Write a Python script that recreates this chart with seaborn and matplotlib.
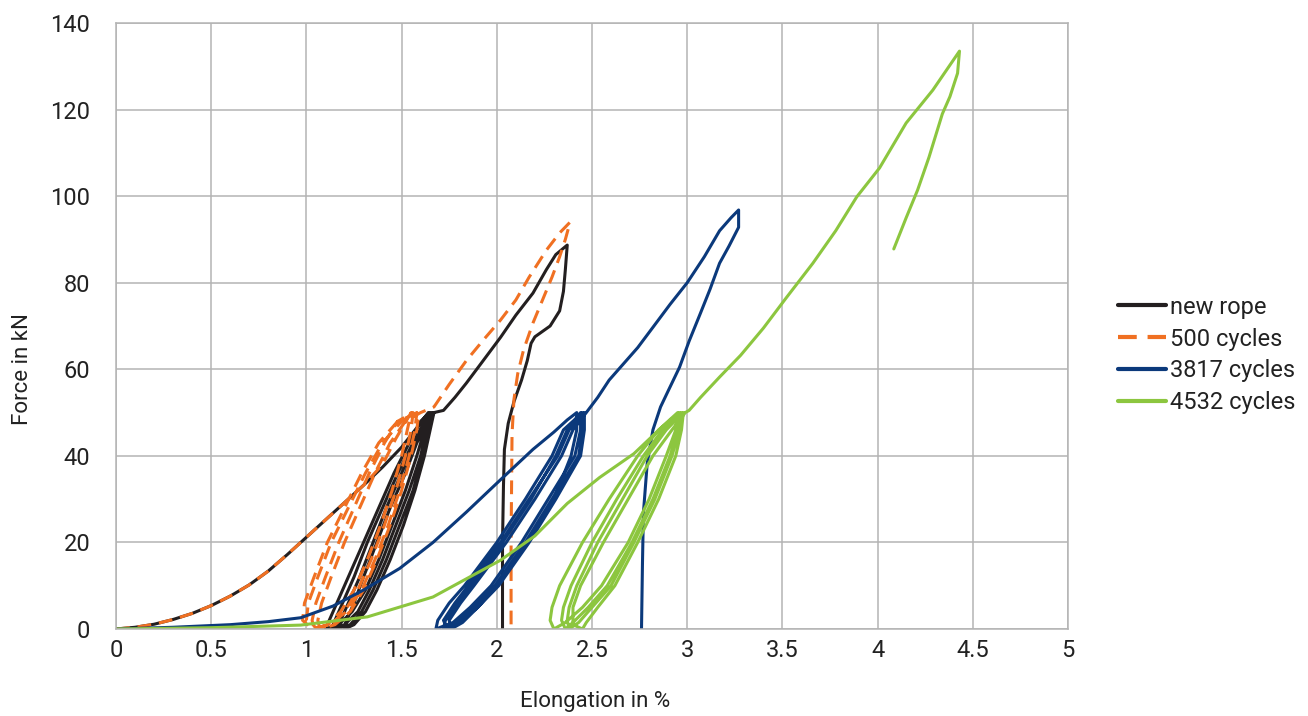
import matplotlib
matplotlib.use("Agg")
import matplotlib.pyplot as plt
import seaborn as sns
import pandas as pd

# ---------------- data ----------------
series_names = ["new rope", "500 cycles", "3817 cycles", "4532 cycles"]

new_rope_x = [0, 0.1, 0.2, 0.3, 0.4, 0.5, 0.6, 0.7, 0.8, 0.9, 1.0, 1.1, 1.2, 1.3, 1.4, 1.5, 1.58, 1.64,
              1.62, 1.58, 1.52, 1.45, 1.38, 1.31, 1.24, 1.17, 1.10,
              1.12, 1.16, 1.22, 1.30, 1.38, 1.46, 1.54, 1.60, 1.65,
              1.63, 1.60, 1.54, 1.47, 1.40, 1.33, 1.27, 1.20, 1.13,
              1.15, 1.19, 1.25, 1.32, 1.40, 1.48, 1.56, 1.62, 1.66,
              1.64, 1.61, 1.56, 1.49, 1.42, 1.35, 1.29, 1.23, 1.16,
              1.18, 1.22, 1.28, 1.35, 1.42, 1.50, 1.57, 1.63, 1.67,
              1.65, 1.62, 1.57, 1.51, 1.44, 1.37, 1.31, 1.25, 1.20,
              1.21, 1.25, 1.30, 1.37, 1.44, 1.52, 1.58, 1.64, 1.67,
              1.72, 1.78, 1.84, 1.92, 2.02, 2.10, 2.19, 2.26, 2.31, 2.37,
              2.36, 2.35, 2.33, 2.28, 2.20, 2.18, 2.16, 2.13, 2.09, 2.06, 2.04, 2.035, 2.03, 2.03, 2.03]
new_rope_y = [0, 0.4, 1.1, 2.2, 3.6, 5.4, 7.6, 10.2, 13.4, 17.2, 21.2, 25.2, 29.2, 33.2, 37.4, 42.0, 46.5, 50,
              46, 40, 32, 24, 16, 9, 4, 1, 0,
              2, 6, 12, 20, 28, 36, 43, 48, 50,
              46, 40, 32, 24, 16, 9, 4, 1, 0,
              2, 6, 12, 20, 28, 36, 43, 48, 50,
              46, 40, 32, 24, 16, 9, 4, 1, 0,
              2, 6, 12, 20, 28, 36, 43, 48, 50,
              46, 40, 32, 24, 16, 9, 4, 1, 0,
              2, 6, 12, 20, 28, 36, 43, 48, 50,
              50.5, 53.5, 56.8, 61.5, 67.4, 72.5, 77.6, 83.0, 86.5, 88.7,
              83, 78, 73.5, 70, 67.5, 66, 62, 57.5, 52.5, 47.5, 41.5, 33, 20, 8, 0]

c500_x = [0, 0.1, 0.2, 0.3, 0.4, 0.5, 0.6, 0.7, 0.8, 0.9, 1.0, 1.1, 1.2, 1.3, 1.4, 1.47, 1.55,
          1.53, 1.50, 1.45, 1.39, 1.32, 1.25, 1.18, 1.11, 1.04,
          1.03, 1.05, 1.10, 1.17, 1.25, 1.33, 1.41, 1.48, 1.56,
          1.55, 1.52, 1.47, 1.41, 1.34, 1.27, 1.20, 1.13, 1.06,
          1.00, 1.01, 1.06, 1.13, 1.22, 1.31, 1.40, 1.50, 1.58,
          1.57, 1.54, 1.49, 1.43, 1.36, 1.29, 1.21, 1.12, 1.03,
          0.98, 0.99, 1.04, 1.11, 1.20, 1.29, 1.38, 1.48, 1.59,
          1.58, 1.55, 1.50, 1.44, 1.37, 1.30, 1.23, 1.15, 1.07,
          1.06, 1.08, 1.13, 1.20, 1.28, 1.36, 1.44, 1.52, 1.60,
          1.67, 1.75, 1.84, 1.93, 2.02, 2.10, 2.17, 2.26, 2.33, 2.385,
          2.36, 2.33, 2.29, 2.24, 2.19, 2.14, 2.11, 2.09, 2.08, 2.078, 2.075, 2.075]
c500_y = [0, 0.4, 1.1, 2.2, 3.6, 5.4, 7.6, 10.2, 13.4, 17.2, 21.2, 25.2, 29.2, 33.2, 38.0, 44.0, 50,
          46, 40, 32, 24, 16, 9, 4, 1, 0,
          2, 6, 12, 20, 28, 36, 43, 48, 50,
          46, 40, 32, 24, 16, 9, 4, 1, 0,
          2, 6, 12, 20, 28, 36, 43, 48, 50,
          46, 40, 32, 24, 16, 9, 4, 1, 0,
          2, 6, 12, 20, 28, 36, 43, 48, 50,
          46, 40, 32, 24, 16, 9, 4, 1, 0,
          2, 6, 12, 20, 28, 36, 43, 48, 50,
          51.3, 56.5, 62.0, 66.8, 71.4, 76.0, 81.3, 87.5, 91.5, 94.0,
          90, 86, 81.3, 76, 70.7, 64.4, 59, 53, 45, 35, 20, 0]

c3817_x = [0, 0.3, 0.6, 0.8, 0.97, 1.14, 1.30, 1.49, 1.665, 1.84, 2.02, 2.19, 2.30, 2.37, 2.42,
           2.42, 2.39, 2.30, 2.16, 2.00, 1.90, 1.80, 1.72,
           1.73, 1.80, 1.87, 2.03, 2.18, 2.31, 2.37, 2.44,
           2.44, 2.41, 2.27, 2.13, 1.97, 1.86, 1.77, 1.68,
           1.69, 1.75, 1.83, 2.00, 2.15, 2.29, 2.35, 2.45,
           2.45, 2.43, 2.29, 2.15, 1.99, 1.88, 1.79, 1.74,
           1.72, 1.78, 1.85, 2.02, 2.17, 2.32, 2.38, 2.46,
           2.46, 2.44, 2.31, 2.17, 2.01, 1.90, 1.82, 1.76,
           1.75, 1.81, 1.88, 2.05, 2.20, 2.34, 2.40, 2.47,
           2.53, 2.59, 2.65, 2.74, 2.82, 2.91, 3.00, 3.09, 3.17, 3.23, 3.27,
           3.27, 3.22, 3.17, 3.12, 3.07, 3.01, 2.96, 2.90, 2.86, 2.82, 2.79, 2.77, 2.765, 2.76]
c3817_y = [0, 0.4, 1.0, 1.7, 2.6, 5.3, 9.0, 14.0, 20.0, 27.0, 34.5, 41.5, 45.5, 48.3, 50,
           46, 40, 30, 20, 10, 5, 1.5, 0,
           2, 6, 10, 20, 30, 40, 46, 50,
           46, 40, 30, 20, 10, 5, 1.5, 0,
           2, 6, 10, 20, 30, 40, 46, 50,
           46, 40, 30, 20, 10, 5, 1.5, 0,
           2, 6, 10, 20, 30, 40, 46, 50,
           46, 40, 30, 20, 10, 5, 1.5, 0,
           2, 6, 10, 20, 30, 40, 46, 50,
           53.5, 57.5, 60.5, 65.0, 69.7, 75.0, 80.0, 86.0, 92.0, 95.0, 96.8,
           92.8, 88.5, 84.5, 78.5, 73, 66.5, 60.5, 55, 51.3, 46, 38.3, 26.8, 15, 0]

c4532_x = [0, 0.5, 0.97, 1.32, 1.665, 2.02, 2.2, 2.37, 2.54, 2.72, 2.89, 2.95,
           2.94, 2.89, 2.80, 2.69, 2.55, 2.45, 2.36, 2.30,
           2.28, 2.29, 2.33, 2.45, 2.59, 2.74, 2.85, 2.96,
           2.95, 2.91, 2.82, 2.71, 2.58, 2.48, 2.40, 2.36,
           2.34, 2.35, 2.39, 2.50, 2.63, 2.77, 2.87, 2.97,
           2.96, 2.92, 2.83, 2.72, 2.60, 2.50, 2.43, 2.38,
           2.37, 2.38, 2.42, 2.53, 2.66, 2.79, 2.89, 2.98,
           2.97, 2.94, 2.85, 2.74, 2.62, 2.53, 2.47, 2.45,
           2.40, 2.40, 2.44, 2.56, 2.69, 2.82, 2.92, 2.99,
           3.01, 3.07, 3.17, 3.28, 3.40, 3.52, 3.66, 3.78, 3.89, 4.01, 4.15, 4.29, 4.36, 4.43,
           4.42, 4.38, 4.34, 4.27, 4.21, 4.15, 4.085]
c4532_y = [0, 0.3, 0.9, 2.8, 7.4, 15.9, 21.5, 29.0, 35.0, 40.5, 47.6, 50,
           46, 40, 30, 20, 10, 5, 1.5, 0,
           2, 5, 10, 20, 30, 40, 46, 50,
           46, 40, 30, 20, 10, 5, 1.5, 0,
           2, 5, 10, 20, 30, 40, 46, 50,
           46, 40, 30, 20, 10, 5, 1.5, 0,
           2, 5, 10, 20, 30, 40, 46, 50,
           46, 40, 30, 20, 10, 5, 1.5, 0,
           1, 5, 10, 20, 30, 40, 46, 50,
           50.5, 53.5, 58.2, 63.2, 69.5, 76.5, 84.5, 92.0, 99.8, 106.5, 116.9, 124.5, 129.0, 133.5,
           128.4, 123.0, 119.0, 109.0, 101.4, 95.0, 87.8]

x_ticks = [0, 0.5, 1, 1.5, 2, 2.5, 3, 3.5, 4, 4.5, 5]
x_tick_labels = ["0", "0.5", "1", "1.5", "2", "2.5", "3", "3.5", "4", "4.5", "5"]
y_ticks = [0, 20, 40, 60, 80, 100, 120, 140]
y_tick_labels = ["0", "20", "40", "60", "80", "100", "120", "140"]

# ---------------- styling ----------------
sns.set_theme(style="white")
plt.rcParams["font.family"] = ["Roboto", "DejaVu Sans"]

colors = {"new rope": "#231f20", "500 cycles": "#f07022",
          "3817 cycles": "#0b397b", "4532 cycles": "#8cc63f"}
linestyles = {"new rope": "-", "500 cycles": (0, (4.5, 2.6)),
              "3817 cycles": "-", "4532 cycles": "-"}

frames = []
for name, xs, ys in zip(series_names,
                        [new_rope_x, c500_x, c3817_x, c4532_x],
                        [new_rope_y, c500_y, c3817_y, c4532_y]):
    frames.append(pd.DataFrame({"x": xs, "y": ys, "series": name}))

fig = plt.figure(figsize=(13.08, 7.16), dpi=100)
ax = fig.add_axes([116 / 1308, 1 - 629 / 716, (1068 - 116) / 1308, (629 - 23) / 716])

for df in frames:
    name = df["series"].iloc[0]
    sns.lineplot(data=df, x="x", y="y", sort=False, estimator=None, ax=ax,
                 color=colors[name], linewidth=2.2, label=name)
    ax.lines[-1].set_linestyle(linestyles[name])
    ax.lines[-1].set_solid_joinstyle("round")
    ax.lines[-1].set_dash_capstyle("butt")

ax.set_xlim(0, 5)
ax.set_ylim(0, 140)
ax.set_xticks(x_ticks)
ax.set_xticklabels(x_tick_labels)
ax.set_yticks(y_ticks)
ax.set_yticklabels(y_tick_labels)
ax.grid(True, color="#b4b4b4", linewidth=1.1)
ax.set_axisbelow(True)
for s in ax.spines.values():
    s.set_color("#b4b4b4")
    s.set_linewidth(1.1)
ax.tick_params(axis="both", labelsize=17, colors="#222222", length=5, width=1,
               color="#b4b4b4", direction="out")
ax.tick_params(axis="y", pad=18.5, length=0)
ax.tick_params(axis="x", pad=2)
for lab in ax.get_xticklabels() + ax.get_yticklabels():
    lab.set_color("#222222")

ax.set_xlabel("Elongation in %", fontsize=16, color="#222222")
ax.set_ylabel("Force in kN", fontsize=16, color="#222222")
ax.xaxis.set_label_coords((595 - 116) / 952, -(691 - 629) / 606)
ax.yaxis.set_label_coords(-(116 - 33) / 952, (629 - 369) / 606)

leg = ax.legend(loc="center left", bbox_to_anchor=(1.043, (629 - 355) / 606), frameon=False,
                fontsize=17, handlelength=2.0, handletextpad=0.2, labelspacing=0.38,
                borderaxespad=0)
for h in leg.get_lines():
    h.set_linewidth(3)
for t in leg.get_texts():
    t.set_color("#222222")

fig.savefig("out.png", dpi=100)
